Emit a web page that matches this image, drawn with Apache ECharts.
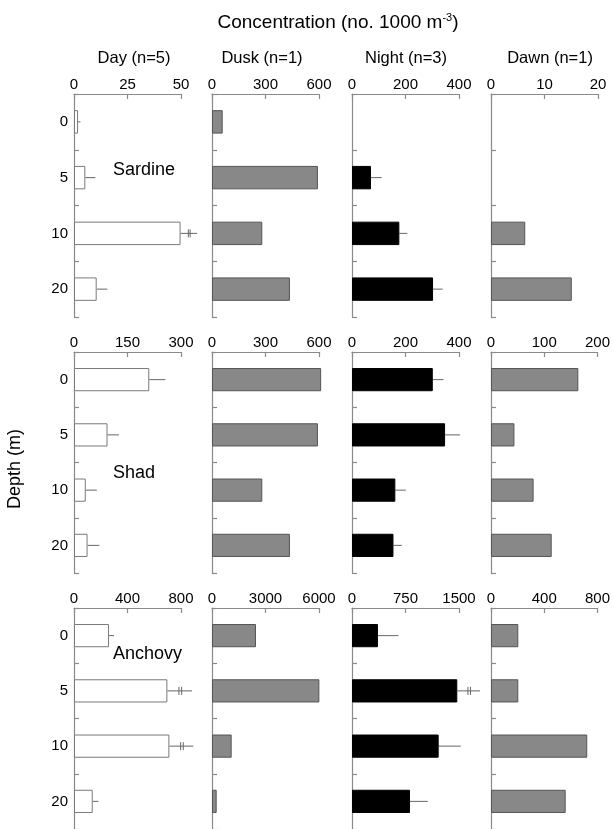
<!DOCTYPE html>
<html>
<head>
<meta charset="utf-8">
<script src="https://cdn.jsdelivr.net/npm/echarts@6/dist/echarts.min.js"></script>
<style>
  html, body { margin: 0; padding: 0; background: #fff; }
  #chart { width: 613px; height: 829px; }
</style>
</head>
<body>
<div id="chart"></div>
<script>
// depth categories (m)
const depths = ['0', '5', '10', '20'];
const periods = ['Day (n=5)', 'Dusk (n=1)', 'Night (n=3)', 'Dawn (n=1)'];
const species = ['Sardine', 'Shad', 'Anchovy'];

// axis maxima per species row (Day, Dusk, Night, Dawn)
const sardineMax = [50, 600, 400, 20];
const shadMax = [300, 600, 400, 200];
const anchovyMax = [800, 6000, 1500, 800];

// Sardine
const sardineDay = [1.9, 5.3, 49.8, 10.6];
const sardineDayErr = [3, 10, 57.5, 15.6];
const sardineDayBroken = [2];
const sardineDusk = [60, 594, 282, 437];
const sardineNight = [0, 71, 177, 303];
const sardineNightErr = [null, 111, 207, 339];
const sardineDawn = [0, 0, 6.4, 15.1];

// Shad
const shadDay = [211, 94, 33, 38];
const shadDayErr = [256, 126, 64, 71];
const shadDusk = [612, 594, 282, 437];
const shadNight = [302, 348, 162, 155];
const shadNightErr = [342, 404, 201, 186];
const shadDawn = [164, 44, 80, 114];

// Anchovy
const anchovyDay = [262, 698, 713, 140];
const anchovyDayErr = [299, 882, 892, 182];
const anchovyDayBroken = [1, 2];
const anchovyDusk = [2467, 6020, 1103, 262];
const anchovyNight = [364, 1476, 1215, 813];
const anchovyNightErr = [650, 1794, 1524, 1062];
const anchovyNightBroken = [1];
const anchovyDawn = [205, 205, 723, 561];

const rows = [
  { max: sardineMax, vals: [sardineDay, sardineDusk, sardineNight, sardineDawn],
    errs: [sardineDayErr, null, sardineNightErr, null], broken: [sardineDayBroken, [], [], []] },
  { max: shadMax, vals: [shadDay, shadDusk, shadNight, shadDawn],
    errs: [shadDayErr, null, shadNightErr, null], broken: [[], [], [], []] },
  { max: anchovyMax, vals: [anchovyDay, anchovyDusk, anchovyNight, anchovyDawn],
    errs: [anchovyDayErr, null, anchovyNightErr, null], broken: [anchovyDayBroken, [], anchovyNightBroken, []] }
];

const FONT = '"Liberation Sans", Arial, Helvetica, sans-serif';
const colLeft = [74, 212, 352, 491];
const colWidth = 107;
const rowTop = [94, 352, 608];
const rowHeight = [223, 221, 224];
const axisGray = '#8a8a8a';

const barStyles = [
  { color: '#ffffff', borderColor: '#7a7a7a', borderWidth: 1 },
  { color: '#888888', borderColor: '#555555', borderWidth: 1 },
  { color: '#000000', borderColor: '#000000', borderWidth: 1 },
  { color: '#888888', borderColor: '#555555', borderWidth: 1 }
];

const grid = [], xAxis = [], yAxis = [], series = [];

rows.forEach((row, r) => {
  for (let c = 0; c < 4; c++) {
    const i = r * 4 + c;
    const max = row.max[c];
    grid.push({ left: colLeft[c], top: rowTop[r], width: colWidth, height: rowHeight[r] });
    xAxis.push({
      gridIndex: i, type: 'value', position: 'top',
      min: 0, max: max, interval: max / 2,
      axisLine: { show: true, lineStyle: { color: axisGray, width: 1.2 } },
      axisTick: { show: true, inside: true, length: 5, lineStyle: { color: axisGray, width: 1.2 } },
      axisLabel: { color: '#000', fontSize: 15, fontFamily: FONT, margin: 2, formatter: v => String(v) },
      splitLine: { show: false }
    });
    yAxis.push({
      gridIndex: i, type: 'category', data: depths, inverse: true,
      axisLine: { show: true, lineStyle: { color: axisGray, width: 1.2 } },
      axisTick: { show: true, inside: true, length: 5, alignWithLabel: false, lineStyle: { color: axisGray, width: 1.2 } },
      axisLabel: { show: c === 0, color: '#000', fontSize: 15, fontFamily: FONT, margin: 6 },
      splitLine: { show: false }
    });
    series.push({
      type: 'bar', xAxisIndex: i, yAxisIndex: i,
      data: row.vals[c].map(v => (v === 0 ? '-' : v)),
      barWidth: '42%', clip: false, silent: true,
      itemStyle: barStyles[c]
    });
    const errs = row.errs[c];
    if (errs) {
      const data = [];
      errs.forEach((e, k) => {
        if (e != null) data.push([e, k, row.vals[c][k], row.broken[c].includes(k) ? 1 : 0]);
      });
      series.push({
        type: 'custom', xAxisIndex: i, yAxisIndex: i, clip: false, silent: true,
        encode: { x: 0, y: 1 },
        data: data,
        renderItem: function (params, api) {
          const p0 = api.coord([api.value(2), api.value(1)]);
          const p1 = api.coord([api.value(0), api.value(1)]);
          const st = { stroke: '#666', lineWidth: 1 };
          const children = [{
            type: 'line', shape: { x1: p0[0], y1: p0[1], x2: p1[0], y2: p1[1] }, style: st
          }];
          if (api.value(3)) {
            const len = p1[0] - p0[0];
            [0.47, 0.58].forEach(f => {
              const x = p0[0] + len * f;
              children.push({ type: 'line', shape: { x1: x, y1: p0[1] - 4, x2: x, y2: p0[1] + 4 }, style: st });
            });
          }
          return { type: 'group', children: children };
        }
      });
    }
  }
});

const periodX = [134, 262, 406, 550];
const speciesY = [170, 473, 654];

const graphic = [
  {
    type: 'text', x: 338, y: 23,
    style: {
      text: 'Concentration (no. 1000 m{sup|-3})',
      font: '19px ' + FONT, fill: '#000', align: 'center', verticalAlign: 'middle',
      rich: { sup: { fontSize: 11, fontFamily: FONT, verticalAlign: 'top', lineHeight: 22 } }
    }
  },
  {
    type: 'text', x: 15, y: 469, rotation: Math.PI / 2,
    style: { text: 'Depth (m)', font: '18px ' + FONT, fill: '#000', align: 'center', verticalAlign: 'middle' }
  }
];
periods.forEach((p, k) => {
  graphic.push({
    type: 'text', x: periodX[k], y: 58,
    style: { text: p, font: '16.5px ' + FONT, fill: '#000', align: 'center', verticalAlign: 'middle' }
  });
});
species.forEach((s, k) => {
  graphic.push({
    type: 'text', x: 113, y: speciesY[k],
    style: { text: s, font: '18px ' + FONT, fill: '#000', align: 'left', verticalAlign: 'middle' }
  });
});

const myChart = echarts.init(document.getElementById('chart'), null, { renderer: 'canvas' });
myChart.setOption({
  animation: false,
  backgroundColor: '#fff',
  grid: grid,
  xAxis: xAxis,
  yAxis: yAxis,
  series: series,
  graphic: graphic
});
</script>
</body>
</html>
